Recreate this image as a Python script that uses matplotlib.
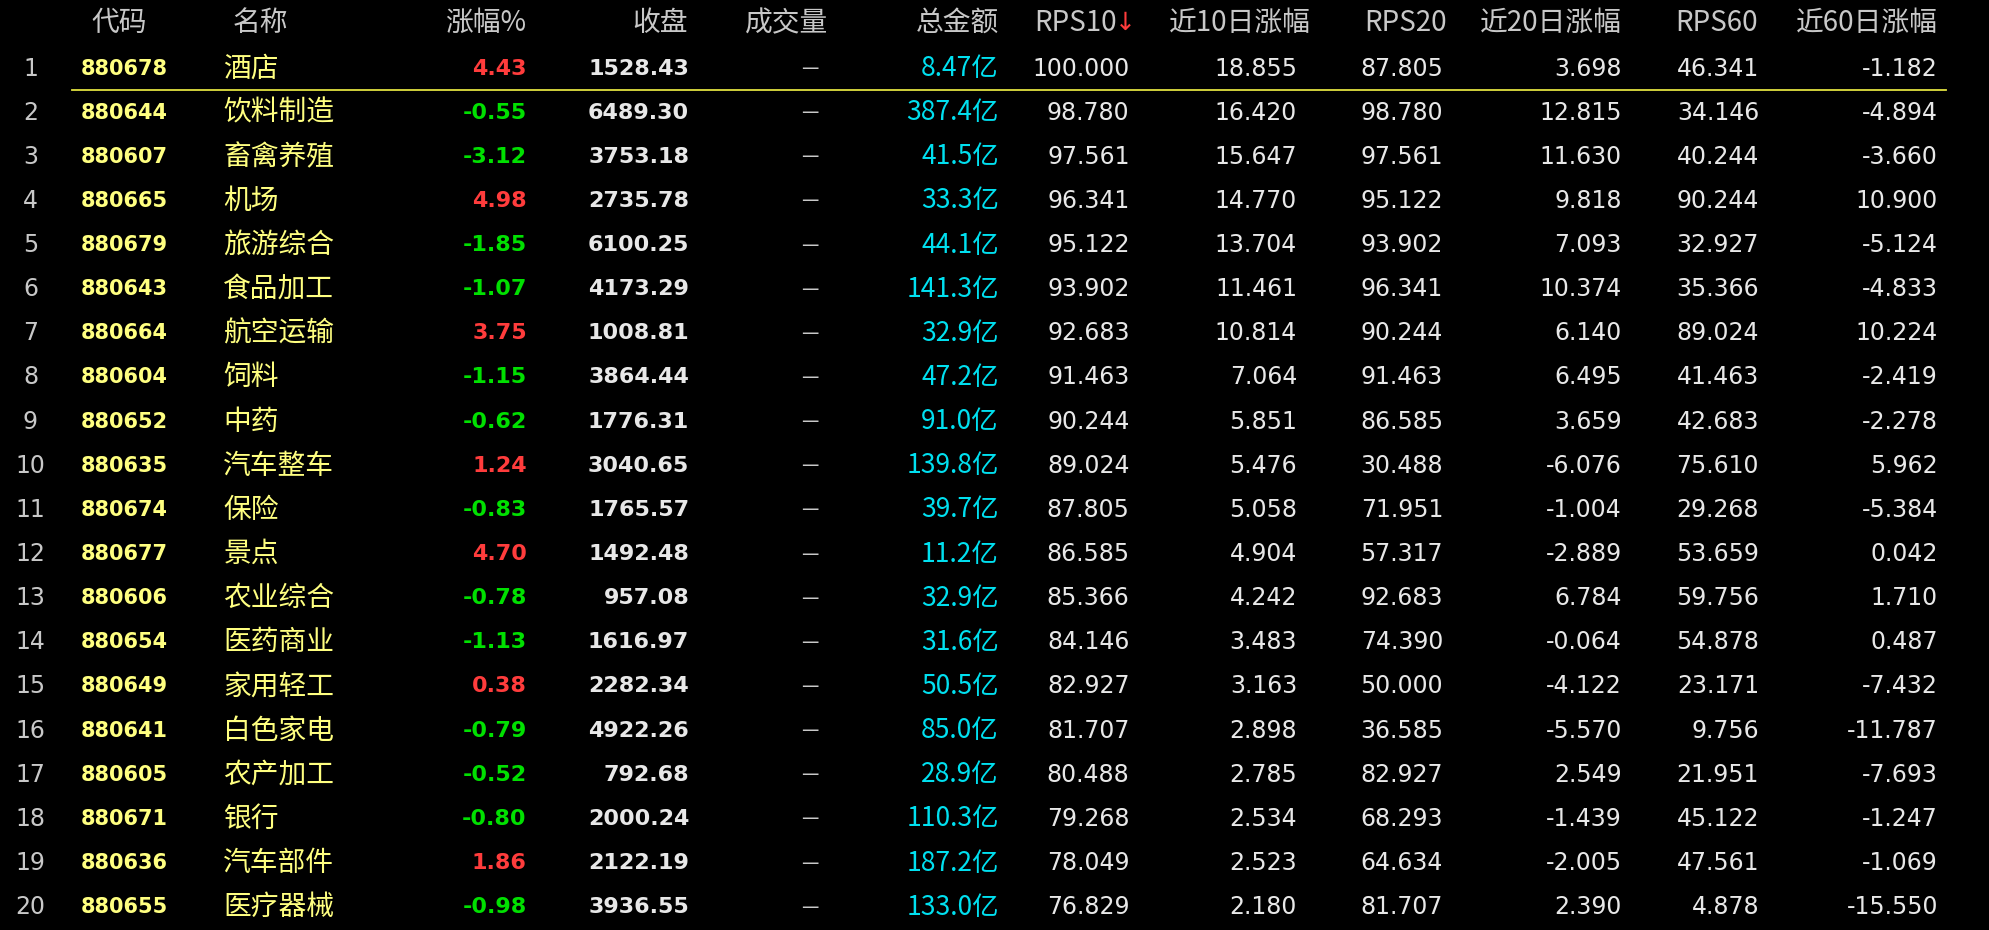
import matplotlib.pyplot as plt

codes = ['880678', '880644', '880607', '880665', '880679', '880643', '880664', '880604', '880652', '880635',
         '880674', '880677', '880606', '880654', '880649', '880641', '880605', '880671', '880636', '880655']
names = ['酒店', '饮料制造', '畜禽养殖', '机场', '旅游综合', '食品加工', '航空运输', '饲料', '中药', '汽车整车',
         '保险', '景点', '农业综合', '医药商业', '家用轻工', '白色家电', '农产加工', '银行', '汽车部件', '医疗器械']
change = [4.43, -0.55, -3.12, 4.98, -1.85, -1.07, 3.75, -1.15, -0.62, 1.24,
          -0.83, 4.70, -0.78, -1.13, 0.38, -0.79, -0.52, -0.80, 1.86, -0.98]
close = ['1528.43', '6489.30', '3753.18', '2735.78', '6100.25', '4173.29', '1008.81', '3864.44', '1776.31', '3040.65',
         '1765.57', '1492.48', '957.08', '1616.97', '2282.34', '4922.26', '792.68', '2000.24', '2122.19', '3936.55']
amount = ['8.47亿', '387.4亿', '41.5亿', '33.3亿', '44.1亿', '141.3亿', '32.9亿', '47.2亿', '91.0亿', '139.8亿',
          '39.7亿', '11.2亿', '32.9亿', '31.6亿', '50.5亿', '85.0亿', '28.9亿', '110.3亿', '187.2亿', '133.0亿']
rps10 = ['100.000', '98.780', '97.561', '96.341', '95.122', '93.902', '92.683', '91.463', '90.244', '89.024',
         '87.805', '86.585', '85.366', '84.146', '82.927', '81.707', '80.488', '79.268', '78.049', '76.829']
chg10 = ['18.855', '16.420', '15.647', '14.770', '13.704', '11.461', '10.814', '7.064', '5.851', '5.476',
         '5.058', '4.904', '4.242', '3.483', '3.163', '2.898', '2.785', '2.534', '2.523', '2.180']
rps20 = ['87.805', '98.780', '97.561', '95.122', '93.902', '96.341', '90.244', '91.463', '86.585', '30.488',
         '71.951', '57.317', '92.683', '74.390', '50.000', '36.585', '82.927', '68.293', '64.634', '81.707']
chg20 = ['3.698', '12.815', '11.630', '9.818', '7.093', '10.374', '6.140', '6.495', '3.659', '-6.076',
         '-1.004', '-2.889', '6.784', '-0.064', '-4.122', '-5.570', '2.549', '-1.439', '-2.005', '2.390']
rps60 = ['46.341', '34.146', '40.244', '90.244', '32.927', '35.366', '89.024', '41.463', '42.683', '75.610',
         '29.268', '53.659', '59.756', '54.878', '23.171', '9.756', '21.951', '45.122', '47.561', '4.878']
chg60 = ['-1.182', '-4.894', '-3.660', '10.900', '-5.124', '-4.833', '10.224', '-2.419', '-2.278', '5.962',
         '-5.384', '0.042', '1.710', '0.487', '-7.432', '-11.787', '-7.693', '-1.247', '-1.069', '-15.550']

W, H = 1568, 733
fig = plt.figure(figsize=(19.9, 9.3), dpi=100, facecolor='black')
ax = fig.add_axes([0, 0, 1, 1])
ax.set_facecolor('black')
ax.set_xlim(0, W)
ax.set_ylim(H, 0)
ax.axis('off')

CJK = ['Noto Sans CJK SC', 'DejaVu Sans']
NUM = ['DejaVu Sans']
fs = 17
grey = '#C8C8C8'
white = '#E8E8E8'
red = '#FF3C3C'
green = '#00E000'
cyan = '#00E0F0'
yellow = '#FFFF80'

# header
hy = 18
headers = [(94, '代码', 'center'), (183, '名称', 'left'), (415, '涨幅%', 'right'), (542, '收盘', 'right'),
           (620, '成交量', 'center'), (787, '总金额', 'right'), (880, 'RPS10', 'right'),
           (1033, '近10日涨幅', 'right'), (1140, 'RPS20', 'right'), (1278, '近20日涨幅', 'right'),
           (1385, 'RPS60', 'right'), (1527, '近60日涨幅', 'right')]
for x, t, ha in headers:
    ax.text(x, hy, t, color=grey, fontsize=20, ha=ha, va='center', family=CJK)
ax.text(887, hy, '↓', color=red, fontsize=18, ha='center', va='center', family=['DejaVu Sans'])

y0, step = 54, (715 - 54) / 19
for i in range(20):
    y = y0 + i * step
    ax.text(24, y, str(i + 1), color=grey, fontsize=fs, ha='center', va='center', family=NUM)
    ax.text(64, y, codes[i], color=yellow, fontsize=15, ha='left', va='center', family=NUM, weight='bold')
    ax.text(176, y, names[i], color=yellow, fontsize=20, ha='left', va='center', family=CJK)
    c = change[i]
    ax.text(415, y, f'{c:.2f}', color=red if c > 0 else green, fontsize=16, ha='right', va='center',
            family=NUM, weight='bold')
    ax.text(543, y, close[i], color=white, fontsize=16, ha='right', va='center', family=NUM, weight='bold')
    ax.text(638, y, '—', color=grey, fontsize=14, ha='center', va='center', family=CJK)
    ax.text(787, y, amount[i], color=cyan, fontsize=19, ha='right', va='center', family=CJK)
    for x, vals in [(890, rps10), (1022, chg10), (1137, rps20), (1278, chg20), (1386, rps60), (1527, chg60)]:
        ax.text(x, y, vals[i], color=white, fontsize=fs, ha='right', va='center', family=NUM)

ax.plot([57, 1533], [71, 71], color='#E0E040', lw=1.3)

fig.savefig('out.png', dpi=100, facecolor='black')
